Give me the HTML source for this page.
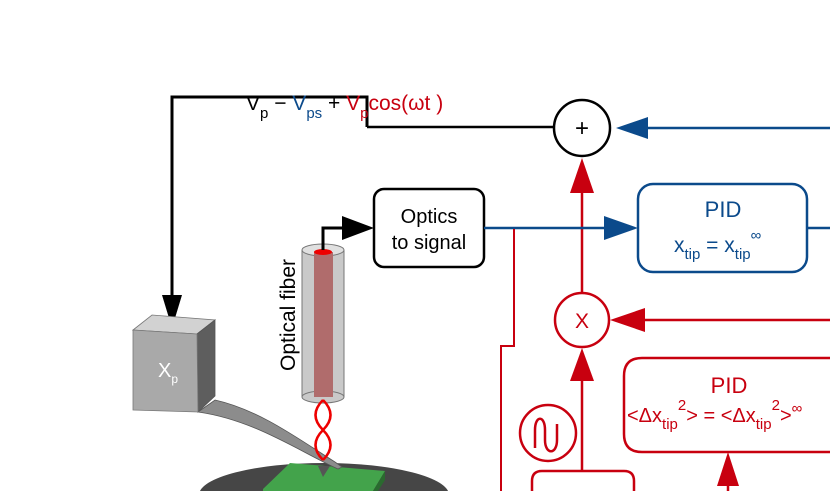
<!DOCTYPE html>
<html><head><meta charset="utf-8"><style>
html,body{margin:0;padding:0;background:#fff;width:830px;height:491px;overflow:hidden}
svg{display:block}
text{font-family:"Liberation Sans",sans-serif}
</style></head><body>
<svg width="830" height="491" viewBox="0 0 830 491" xmlns="http://www.w3.org/2000/svg" style="overflow:hidden">
<!-- black loop -->
<polyline points="367,127 367,97 172,97 172,300" fill="none" stroke="#000" stroke-width="3"/>
<line x1="367" y1="127" x2="554" y2="127" stroke="#000" stroke-width="2.5"/>
<polygon points="162,295 182,295 172,328" fill="#000"/>
<text x="246" y="110" font-size="21" fill="#000">V<tspan font-size="15" dy="8">p</tspan><tspan dy="-8"> − </tspan><tspan fill="#0b4a8b">V</tspan><tspan fill="#0b4a8b" font-size="15" dy="8">ps</tspan><tspan dy="-8"> + </tspan><tspan fill="#c8000f">V</tspan><tspan fill="#c8000f" font-size="15" dy="8">p</tspan><tspan fill="#c8000f" dy="-8">cos(ωt )</tspan></text>
<!-- sum circle -->
<circle cx="582" cy="128" r="28" fill="#fff" stroke="#000" stroke-width="2.5"/>
<text x="582" y="136" font-size="24" text-anchor="middle">+</text>
<line x1="640" y1="128" x2="830" y2="128" stroke="#0b4a8b" stroke-width="2.5"/>
<polygon points="616,128 648,117 648,139" fill="#0b4a8b"/>
<!-- red up arrow to sum -->
<line x1="582" y1="185" x2="582" y2="292" stroke="#c8000f" stroke-width="2.5"/>
<polygon points="582,158 570,193 594,193" fill="#c8000f"/>
<!-- optics box -->
<rect x="374" y="189" width="110" height="78" rx="10" fill="#fff" stroke="#000" stroke-width="2.5"/>
<text x="429" y="223" font-size="20" text-anchor="middle">Optics</text>
<text x="429" y="249" font-size="20" text-anchor="middle">to signal</text>
<!-- blue line to PID -->
<line x1="484" y1="228" x2="610" y2="228" stroke="#0b4a8b" stroke-width="2.5"/>
<polygon points="638,228 604,216 604,240" fill="#0b4a8b"/>
<rect x="638" y="184" width="169" height="88" rx="15" fill="#fff" stroke="#0b4a8b" stroke-width="2.5"/>
<text x="723" y="217" font-size="22" fill="#0b4a8b" text-anchor="middle">PID</text>
<text x="674" y="252" font-size="21" fill="#0b4a8b">x<tspan font-size="15" dy="7">tip</tspan><tspan dy="-7"> = x</tspan><tspan font-size="15" dy="7">tip</tspan><tspan font-size="15" dy="-19">∞</tspan></text>
<line x1="807" y1="228" x2="830" y2="228" stroke="#0b4a8b" stroke-width="2.5"/>
<!-- red branch -->
<polyline points="514,229 514,346 501,346 501,491" fill="none" stroke="#c8000f" stroke-width="2"/>
<!-- X circle -->
<circle cx="582" cy="320" r="27" fill="#fff" stroke="#c8000f" stroke-width="2.5"/>
<text x="582" y="328" font-size="21" fill="#c8000f" text-anchor="middle">X</text>
<line x1="640" y1="320" x2="830" y2="320" stroke="#c8000f" stroke-width="2.5"/>
<polygon points="610,320 645,308 645,332" fill="#c8000f"/>
<line x1="582" y1="375" x2="582" y2="472" stroke="#c8000f" stroke-width="2.5"/>
<polygon points="582,348 570,381 594,381" fill="#c8000f"/>
<!-- sine source -->
<circle cx="548" cy="433" r="28" fill="#fff" stroke="#c8000f" stroke-width="2.5"/>
<path d="M535,448 L535,430 C535,415 545,415 545,430 L545,440 C545,455 557,455 557,440 L557,424" fill="none" stroke="#c8000f" stroke-width="2.5"/>
<path d="M532,491 L532,481 Q532,471 542,471 L624,471 Q634,471 634,481 L634,491" fill="#fff" stroke="#c8000f" stroke-width="2.5"/>
<!-- red PID -->
<path d="M830,358 L642,358 Q624,358 624,376 L624,434 Q624,452 642,452 L830,452" fill="#fff" stroke="#c8000f" stroke-width="2.5"/>
<text x="729" y="393" font-size="22" fill="#c8000f" text-anchor="middle">PID</text>
<text x="627" y="422" font-size="20" fill="#c8000f">&lt;Δx<tspan font-size="15" dy="7">tip</tspan><tspan font-size="15" dy="-19">2</tspan><tspan dy="12">&gt; = &lt;Δx</tspan><tspan font-size="15" dy="7">tip</tspan><tspan font-size="15" dy="-19">2</tspan><tspan dy="12">&gt;</tspan><tspan font-size="15" dy="-9">∞</tspan></text>
<line x1="728" y1="480" x2="728" y2="491" stroke="#c8000f" stroke-width="2.5"/>
<polygon points="728,452 717,486 739,486" fill="#c8000f"/>
<!-- disc and sample -->
<ellipse cx="324" cy="495" rx="125" ry="32" fill="#464646"/>
<polygon points="263,489 290,463 385,471 373,491 263,491" fill="#43a34b"/>
<polygon points="373,491 385,471 385,480 378,491" fill="#2a6a2f"/>
<!-- cantilever -->
<path d="M198,412 L215,400 C260,410 300,440 335,462 L342,467 L338,469 C300,452 255,420 198,412 Z" fill="#8c8c8c" stroke="#555" stroke-width="0.8"/>
<polygon points="318,466 330,466 323,477" fill="#555"/>
<!-- cube -->
<polygon points="133,330 152,315 215,320 197,334" fill="#d2d2d2" stroke="#777" stroke-width="0.8"/>
<polygon points="197,334 215,320 215,396 198,412" fill="#5e5e5e" stroke="#555" stroke-width="0.8"/>
<polygon points="133,330 197,334 198,412 133,410" fill="#a9a9a9" stroke="#777" stroke-width="0.8"/>
<text x="158" y="377" font-size="20" fill="#fff">X<tspan font-size="12" dy="6">p</tspan></text>
<!-- fiber -->
<rect x="302" y="250" width="42" height="147" fill="#c9c9c9" stroke="#777" stroke-width="1"/>
<ellipse cx="323" cy="397" rx="21" ry="6" fill="#c9c9c9" stroke="#777" stroke-width="1"/>
<ellipse cx="323" cy="250" rx="21" ry="6" fill="#e0e0e0" stroke="#777" stroke-width="1"/>
<rect x="314" y="252" width="19" height="145" fill="#b06c6c"/>
<ellipse cx="323" cy="252" rx="9" ry="3" fill="#e00"/>
<path d="M323,400 C313,410 313,420 323,430 C333,440 333,450 323,460 M323,400 C333,410 333,420 323,430 C313,440 313,450 323,460" fill="none" stroke="#e00" stroke-width="2.5"/>
<polyline points="323,250 323,228 350,228" fill="none" stroke="#000" stroke-width="3"/>
<polygon points="374,228 342,216 342,240" fill="#000"/>
<text transform="translate(295,315) rotate(-90)" font-size="21" text-anchor="middle">Optical fiber</text>
</svg>
</body></html>
